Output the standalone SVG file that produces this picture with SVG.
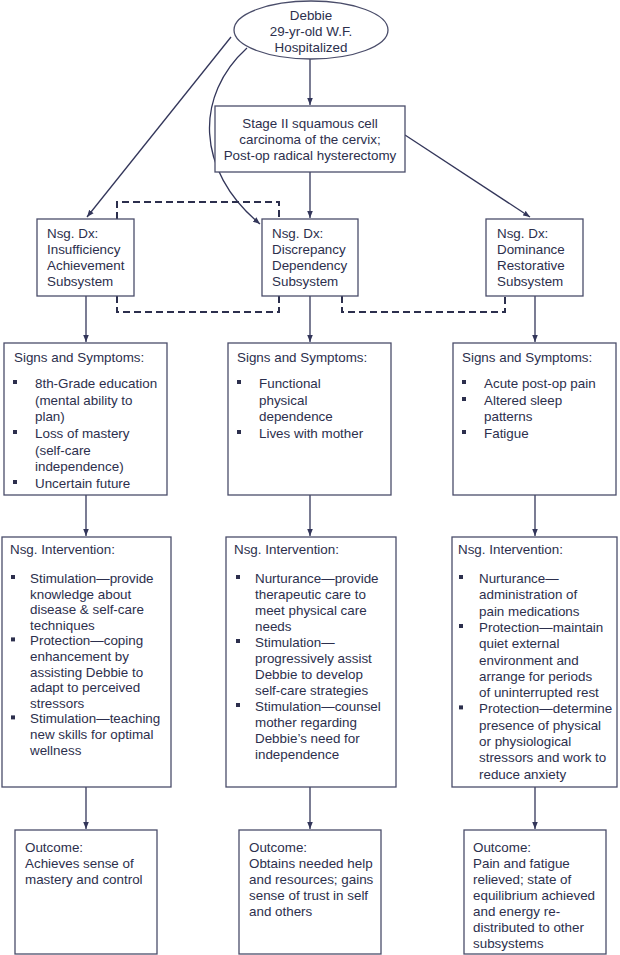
<svg xmlns="http://www.w3.org/2000/svg" width="620" height="955" viewBox="0 0 620 955">
<defs>
<marker id="ah" viewBox="0 0 10 10" refX="10" refY="5" markerWidth="7" markerHeight="7" orient="auto" markerUnits="userSpaceOnUse">
<path d="M0,1 L10,5 L0,9 Z" fill="#33365a"/>
</marker>
<style>
text{font-family:"Liberation Sans",Arial,sans-serif;font-size:13.4px;fill:#2c2f4d}
.c{text-anchor:middle}
.box{fill:#fff;stroke:#4a4d6a;stroke-width:1.3}
.ln{fill:none;stroke:#33365a;stroke-width:1.3}
.ds{fill:none;stroke:#2c2f4d;stroke-width:2;stroke-dasharray:7 4}
.b{fill:#2c2f4d}
</style>
</defs>
<rect width="620" height="955" fill="#fff"/>

<g id="connectors">
<line class="ln" x1="310" y1="59" x2="310" y2="105" marker-end="url(#ah)"/>
<line class="ln" x1="231" y1="37" x2="87" y2="217" marker-end="url(#ah)"/>
<path class="ln" d="M247,48 C195,95 195,170 260,224" marker-end="url(#ah)"/>
<line class="ln" x1="405" y1="135" x2="530" y2="217" marker-end="url(#ah)"/>
<line class="ln" x1="310" y1="172" x2="310" y2="218" marker-end="url(#ah)"/>
<path class="ds" d="M117,219 V202 H279 V219"/>
<path class="ds" d="M117,296 V312 H279 V296"/>
<path class="ds" d="M342,296 V312 H505 V296"/>
<line class="ln" x1="86" y1="296" x2="86" y2="342" marker-end="url(#ah)"/>
<line class="ln" x1="310" y1="296" x2="310" y2="342" marker-end="url(#ah)"/>
<line class="ln" x1="535" y1="296" x2="535" y2="342" marker-end="url(#ah)"/>
<line class="ln" x1="86" y1="495" x2="86" y2="536" marker-end="url(#ah)"/>
<line class="ln" x1="310" y1="495" x2="310" y2="536" marker-end="url(#ah)"/>
<line class="ln" x1="535" y1="495" x2="535" y2="536" marker-end="url(#ah)"/>
<line class="ln" x1="86" y1="787" x2="86" y2="829" marker-end="url(#ah)"/>
<line class="ln" x1="310" y1="787" x2="310" y2="829" marker-end="url(#ah)"/>
<line class="ln" x1="535" y1="787" x2="535" y2="829" marker-end="url(#ah)"/>
</g>

<g id="debbie">
<ellipse class="box" cx="311" cy="30" rx="77" ry="29"/>
<text class="c" x="311" y="20">Debbie</text>
<text class="c" x="311" y="36">29-yr-old W.F.</text>
<text class="c" x="311" y="52">Hospitalized</text>
</g>

<g id="stage">
<rect class="box" x="215" y="106" width="190" height="66"/>
<text class="c" x="310" y="128">Stage II squamous cell</text>
<text class="c" x="310" y="144">carcinoma of the cervix;</text>
<text class="c" x="310" y="160">Post-op radical hysterectomy</text>
</g>

<g id="dx-insufficiency">
<rect class="box" x="37" y="219" width="97" height="77"/>
<text x="47" y="238">Nsg. Dx:</text>
<text x="47" y="254">Insufficiency</text>
<text x="47" y="270">Achievement</text>
<text x="47" y="286">Subsystem</text>
</g>
<g id="dx-discrepancy">
<rect class="box" x="262" y="219" width="96" height="77"/>
<text x="272" y="238">Nsg. Dx:</text>
<text x="272" y="254">Discrepancy</text>
<text x="272" y="270">Dependency</text>
<text x="272" y="286">Subsystem</text>
</g>
<g id="dx-dominance">
<rect class="box" x="486" y="219" width="97" height="77"/>
<text x="497" y="238">Nsg. Dx:</text>
<text x="497" y="254">Dominance</text>
<text x="497" y="270">Restorative</text>
<text x="497" y="286">Subsystem</text>
</g>

<g id="signs-left">
<rect class="box" x="4" y="343" width="163" height="152"/>
<text x="14" y="362">Signs and Symptoms:</text>
<rect class="b" x="13" y="380" width="4" height="4"/>
<text x="35" y="388">8th-Grade education</text>
<text x="35" y="405">(mental ability to</text>
<text x="35" y="421">plan)</text>
<rect class="b" x="13" y="430" width="4" height="4"/>
<text x="35" y="438">Loss of mastery</text>
<text x="35" y="455">(self-care</text>
<text x="35" y="471">independence)</text>
<rect class="b" x="13" y="480" width="4" height="4"/>
<text x="35" y="488">Uncertain future</text>
</g>
<g id="signs-middle">
<rect class="box" x="228" y="343" width="163" height="152"/>
<text x="237" y="362">Signs and Symptoms:</text>
<rect class="b" x="237" y="380" width="4" height="4"/>
<text x="259" y="388">Functional</text>
<text x="259" y="405">physical</text>
<text x="259" y="421">dependence</text>
<rect class="b" x="237" y="430" width="4" height="4"/>
<text x="259" y="438">Lives with mother</text>
</g>
<g id="signs-right">
<rect class="box" x="453" y="343" width="163" height="152"/>
<text x="462" y="362">Signs and Symptoms:</text>
<rect class="b" x="462" y="380" width="4" height="4"/>
<text x="484" y="388">Acute post-op pain</text>
<rect class="b" x="462" y="397" width="4" height="4"/>
<text x="484" y="405">Altered sleep</text>
<text x="484" y="421">patterns</text>
<rect class="b" x="462" y="430" width="4" height="4"/>
<text x="484" y="438">Fatigue</text>
</g>

<g id="intervention-left">
<rect class="box" x="2" y="537" width="169" height="250"/>
<text x="10" y="554">Nsg. Intervention:</text>
<rect class="b" x="11" y="575" width="4" height="4"/>
<text x="30" y="583">Stimulation—provide</text>
<text x="30" y="598.6">knowledge about</text>
<text x="30" y="614.2">disease &amp; self-care</text>
<text x="30" y="629.8">techniques</text>
<rect class="b" x="11" y="637.4" width="4" height="4"/>
<text x="30" y="645.4">Protection—coping</text>
<text x="30" y="661">enhancement by</text>
<text x="30" y="676.6">assisting Debbie to</text>
<text x="30" y="692.2">adapt to perceived</text>
<text x="30" y="707.8">stressors</text>
<rect class="b" x="11" y="715.4" width="4" height="4"/>
<text x="30" y="723.4">Stimulation—teaching</text>
<text x="30" y="739">new skills for optimal</text>
<text x="30" y="754.6">wellness</text>
</g>
<g id="intervention-middle">
<rect class="box" x="226" y="537" width="170" height="250"/>
<text x="234" y="554">Nsg. Intervention:</text>
<rect class="b" x="236" y="575" width="4" height="4"/>
<text x="255" y="583">Nurturance—provide</text>
<text x="255" y="599">therapeutic care to</text>
<text x="255" y="615">meet physical care</text>
<text x="255" y="631">needs</text>
<rect class="b" x="236" y="639" width="4" height="4"/>
<text x="255" y="647">Stimulation—</text>
<text x="255" y="663">progressively assist</text>
<text x="255" y="679">Debbie to develop</text>
<text x="255" y="695">self-care strategies</text>
<rect class="b" x="236" y="703" width="4" height="4"/>
<text x="255" y="711">Stimulation—counsel</text>
<text x="255" y="727">mother regarding</text>
<text x="255" y="743">Debbie’s need for</text>
<text x="255" y="759">independence</text>
</g>
<g id="intervention-right">
<rect class="box" x="452" y="537" width="165" height="250"/>
<text x="458" y="554">Nsg. Intervention:</text>
<rect class="b" x="459" y="575" width="4" height="4"/>
<text x="479" y="583">Nurturance—</text>
<text x="479" y="599.3">administration of</text>
<text x="479" y="615.6">pain medications</text>
<rect class="b" x="459" y="624" width="4" height="4"/>
<text x="479" y="632">Protection—maintain</text>
<text x="479" y="648.2">quiet external</text>
<text x="479" y="664.5">environment and</text>
<text x="479" y="680.8">arrange for periods</text>
<text x="479" y="697">of uninterrupted rest</text>
<rect class="b" x="459" y="705.4" width="4" height="4"/>
<text x="479" y="713.4">Protection—determine</text>
<text x="479" y="729.7">presence of physical</text>
<text x="479" y="746">or physiological</text>
<text x="479" y="762.3">stressors and work to</text>
<text x="479" y="778.6">reduce anxiety</text>
</g>

<g id="outcome-left">
<rect class="box" x="15" y="830" width="142" height="124"/>
<text x="25" y="852">Outcome:</text>
<text x="25" y="868">Achieves sense of</text>
<text x="25" y="884">mastery and control</text>
</g>
<g id="outcome-middle">
<rect class="box" x="239" y="830" width="142" height="124"/>
<text x="249" y="852">Outcome:</text>
<text x="249" y="868">Obtains needed help</text>
<text x="249" y="884">and resources; gains</text>
<text x="249" y="900">sense of trust in self</text>
<text x="249" y="916">and others</text>
</g>
<g id="outcome-right">
<rect class="box" x="464" y="830" width="142" height="124"/>
<text x="473" y="852">Outcome:</text>
<text x="473" y="868">Pain and fatigue</text>
<text x="473" y="884">relieved; state of</text>
<text x="473" y="900">equilibrium achieved</text>
<text x="473" y="916">and energy re-</text>
<text x="473" y="932">distributed to other</text>
<text x="473" y="948">subsystems</text>
</g>
</svg>
